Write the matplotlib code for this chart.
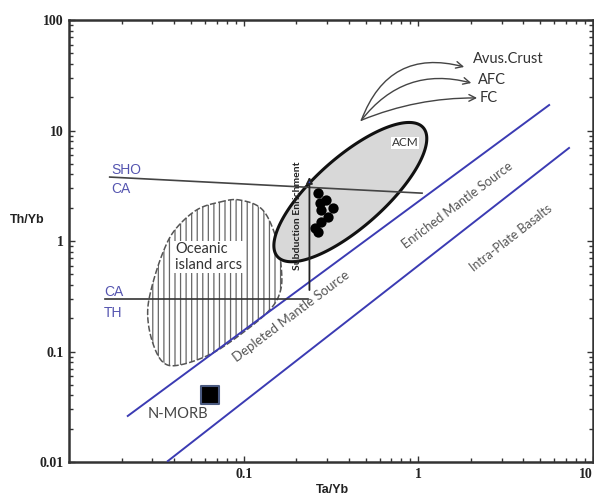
import numpy as np
import matplotlib
matplotlib.use("Agg")
import matplotlib.pyplot as plt
from matplotlib.patches import Polygon, FancyArrowPatch
from matplotlib.ticker import FixedLocator, FixedFormatter, LogLocator, NullFormatter

# ---------------- data ----------------
# boundary lines (Ta/Yb, Th/Yb)
mantle_upper_x = [0.0217, 5.61]
mantle_upper_y = [0.0261, 17.0]
mantle_lower_x = [0.0368, 7.29]
mantle_lower_y = [0.0102, 6.95]
sho_ca_x = [0.0171, 1.05]
sho_ca_y = [3.79, 2.71]
ca_th_x = [0.0161, 0.232]
ca_th_y = [0.299, 0.299]
subduction_x = [0.238, 0.238]
subduction_y = [0.36, 3.8]

# oceanic island arcs field outline
arc_field_x = [0.0730, 0.0948, 0.1285, 0.1545, 0.165, 0.161, 0.141, 0.104, 0.0665,
               0.0430, 0.0344, 0.0298, 0.0282, 0.0298, 0.0344, 0.0404, 0.0538]
arc_field_y = [2.25, 2.35, 1.91, 1.02, 0.513, 0.338, 0.238, 0.157, 0.0969,
               0.0755, 0.0804, 0.127, 0.223, 0.384, 0.778, 1.26, 1.91]

# ACM ellipse: centre (data) and semi-axis vectors in decades
acm_center = (0.408, 2.77)
acm_axis_u = (0.417, 0.584)
acm_axis_v = (0.133, -0.237)

# samples
sample_x = [0.265, 0.298, 0.323, 0.272, 0.279, 0.302, 0.279, 0.255, 0.265]
sample_y = [2.72, 2.35, 1.99, 2.21, 1.91, 1.65, 1.49, 1.31, 1.21]

# N-MORB
nmorb_x = [0.0640]
nmorb_y = [0.0404]

# trend arrows
trend_start = (0.472, 12.4)
trend_ends_x = [1.83, 2.01, 2.17]
trend_ends_y = [37.6, 26.9, 19.7]
trend_labels = ["Avus.Crust", "AFC", "FC"]

xticks = [0.1, 1, 10]
xtick_labels = ["0.1", "1", "10"]
yticks = [0.01, 0.1, 1, 10, 100]
ytick_labels = ["0.01", "0.1", "1", "10", "100"]

# ---------------- figure ----------------
W, H = 594, 498
fig = plt.figure(figsize=(W / 100, H / 100), dpi=100)
ax = fig.add_axes([69 / W, 36 / H, 524 / W, 442 / H])
ax.set_xscale("log")
ax.set_yscale("log")
ax.set_xlim(0.01, 10)
ax.set_ylim(0.01, 100)

def P(px, py):
    return px / W, 1 - py / H

txtfont = ["Lato", "DejaVu Sans"]
blue = "#3b3bb3"

# island arc field (smoothed closed curve in log space)
lx = np.log10(arc_field_x)
ly = np.log10(arc_field_y)
n = len(lx)
sx, sy = [], []
for i in range(n):
    p0 = np.array([lx[i - 1], ly[i - 1]])
    p1 = np.array([lx[i], ly[i]])
    p2 = np.array([lx[(i + 1) % n], ly[(i + 1) % n]])
    p3 = np.array([lx[(i + 2) % n], ly[(i + 2) % n]])
    for t in np.linspace(0, 1, 12, endpoint=False):
        pt = 0.5 * ((2 * p1) + (-p0 + p2) * t + (2 * p0 - 5 * p1 + 4 * p2 - p3) * t ** 2
                    + (-p0 + 3 * p1 - 3 * p2 + p3) * t ** 3)
        sx.append(pt[0]); sy.append(pt[1])
field_pts = np.column_stack([10 ** np.array(sx), 10 ** np.array(sy)])
plt.rcParams["hatch.linewidth"] = 0.9
ax.add_patch(Polygon(field_pts, closed=True, facecolor="white", edgecolor="#666666",
                     hatch="|||", linewidth=0, zorder=2))
ax.add_patch(Polygon(field_pts, closed=True, facecolor="none", edgecolor="#555555",
                     linewidth=1.1, linestyle=(0, (4, 1.5)), zorder=2.1))

# ACM ellipse
t = np.linspace(0, 2 * np.pi, 300)
ex = np.log10(acm_center[0]) + acm_axis_u[0] * np.cos(t) + acm_axis_v[0] * np.sin(t)
ey = np.log10(acm_center[1]) + acm_axis_u[1] * np.cos(t) + acm_axis_v[1] * np.sin(t)
ax.add_patch(Polygon(np.column_stack([10 ** ex, 10 ** ey]), closed=True,
                     facecolor="#d8d8d8", edgecolor="#111111", linewidth=2.2, zorder=3))

# boundary lines
ax.plot(mantle_upper_x, mantle_upper_y, color=blue, lw=1.4, zorder=4)
ax.plot(mantle_lower_x, mantle_lower_y, color=blue, lw=1.4, zorder=4)
ax.plot(sho_ca_x, sho_ca_y, color="#444444", lw=1.2, zorder=4)
ax.plot(ca_th_x, ca_th_y, color="#333333", lw=1.2, zorder=4)

# subduction enrichment arrow
arr = FancyArrowPatch((subduction_x[0], subduction_y[0]), (subduction_x[1], subduction_y[1]),
                      arrowstyle="-|>", mutation_scale=9, lw=1.3, shrinkA=0, shrinkB=0,
                      edgecolor="#222222", facecolor="#3344cc", zorder=5)
ax.add_patch(arr)

# samples
ax.scatter(sample_x, sample_y, s=55, color="black", zorder=6, linewidths=0)
ax.scatter(nmorb_x, nmorb_y, s=150, marker="s", color="black", edgecolors="#4a5a80",
           linewidths=1.5, zorder=6)

# trend arrows
rads = [-0.45, -0.33, -0.1]
for exx, eyy, r in zip(trend_ends_x, trend_ends_y, rads):
    a = FancyArrowPatch(trend_start, (exx, eyy), arrowstyle="->", mutation_scale=12,
                        connectionstyle=f"arc3,rad={r}", lw=1.0, color="#444444",
                        shrinkA=0, shrinkB=0, zorder=5)
    ax.add_patch(a)

# ticks
ax.xaxis.set_major_locator(FixedLocator(xticks))
ax.xaxis.set_major_formatter(FixedFormatter(xtick_labels))
ax.yaxis.set_major_locator(FixedLocator(yticks))
ax.yaxis.set_major_formatter(FixedFormatter(ytick_labels))
ax.xaxis.set_minor_locator(LogLocator(base=10, subs=np.arange(2, 10), numticks=20))
ax.yaxis.set_minor_locator(LogLocator(base=10, subs=np.arange(2, 10), numticks=20))
ax.xaxis.set_minor_formatter(NullFormatter())
ax.yaxis.set_minor_formatter(NullFormatter())
ax.tick_params(which="both", direction="in", top=True, right=True, width=1.0,
               color="#333333")
ax.tick_params(which="major", length=4, labelsize=10, pad=4)
ax.tick_params(which="minor", length=3)
for lab in ax.get_xticklabels() + ax.get_yticklabels():
    lab.set_family(["Liberation Serif"])
    lab.set_fontweight("bold")
    lab.set_color("#222222")
ax.get_xticklabels()[-1].set_horizontalalignment("right")
for s in ax.spines.values():
    s.set_linewidth(1.8)
    s.set_color("#333333")

# axis labels
fig.text(*P(27, 220), "Th/Yb", ha="center", va="center", fontsize=9, fontweight="bold",
         family=["Liberation Sans"], color="#222222")
fig.text(*P(332, 490), "Ta/Yb", ha="center", va="center", fontsize=9, fontweight="bold",
         family=["Liberation Sans"], color="#222222")

# annotations
fig.text(*P(111, 170), "SHO", ha="left", va="center", fontsize=10, color="#5555b0",
         family=["Liberation Sans"])
fig.text(*P(111, 189), "CA", ha="left", va="center", fontsize=10, color="#5555b0",
         family=["Liberation Sans"])
fig.text(*P(104, 292), "CA", ha="left", va="center", fontsize=10, color="#5555b0",
         family=["Liberation Sans"])
fig.text(*P(104, 313), "TH", ha="left", va="center", fontsize=10, color="#5555b0",
         family=["Liberation Sans"])
fig.text(*P(175, 257), "Oceanic\nisland arcs", ha="left", va="center", fontsize=10.5,
         color="#333333", family=txtfont, linespacing=1.2,
         bbox=dict(fc="white", ec="none", pad=0.5), zorder=10)
fig.text(*P(405, 143), "ACM", ha="center", va="center", fontsize=8.5, color="#333333",
         family=txtfont, bbox=dict(fc="white", ec="none", pad=0.5), zorder=10)
fig.text(*P(297, 216), "Subduction Enrichment", ha="center", va="center", fontsize=7.5,
         rotation=90, fontweight="bold", color="#222222", family=txtfont, zorder=10)
fig.text(*P(178, 414), "N-MORB", ha="center", va="center", fontsize=10.5,
         color="#444444", family=txtfont)
fig.text(*P(291, 316), "Depleted Mantle Source", ha="center", va="center", fontsize=9.5,
         rotation=37, rotation_mode="anchor", color="#555555", family=txtfont)
fig.text(*P(457, 205), "Enriched Mantle Source", ha="center", va="center", fontsize=9.3,
         rotation=37, rotation_mode="anchor", color="#555555", family=txtfont)
fig.text(*P(511, 238), "Intra-Plate Basalts", ha="center", va="center", fontsize=9,
         rotation=38, rotation_mode="anchor", color="#555555", family=txtfont)
for lab, py, px in zip(trend_labels, [59, 80, 98], [473, 478, 480]):
    fig.text(*P(px, py), lab, ha="left", va="center", fontsize=10.5, color="#333333",
             family=txtfont)

fig.savefig("out.png", dpi=100)
